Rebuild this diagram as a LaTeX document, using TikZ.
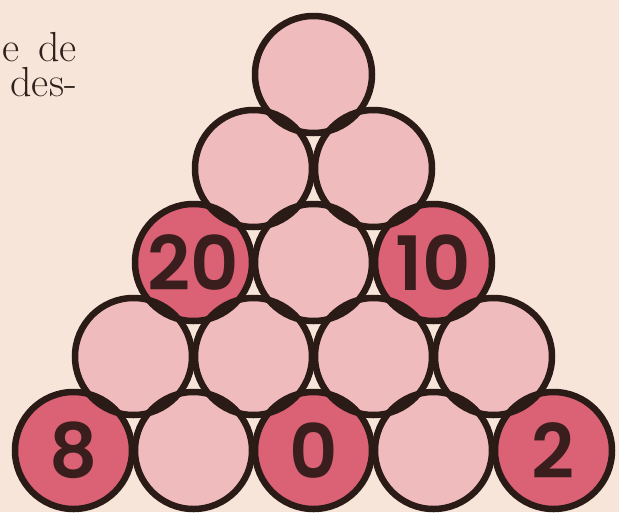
\documentclass[tikz,border=0pt]{standalone}
\usepackage{fontspec}
\newfontfamily\numfont{Poppins}[BoldFont={* SemiBold}]
\definecolor{paper}{HTML}{F6E5D8}
\definecolor{lightball}{HTML}{F0BBBC}
\definecolor{darkball}{HTML}{DB6174}
\definecolor{ink}{HTML}{2B1B17}
\definecolor{numink}{HTML}{3A1E1D}
\definecolor{txtink}{HTML}{2E211C}
\tikzset{
  ballfill/.style={circle, minimum size=117pt, inner sep=0pt, fill=lightball},
  markball/.style={ballfill, fill=darkball},
  ring/.style={draw=ink, line width=6.5pt},
  numtext/.style={font=\numfont\bfseries\fontsize{75}{75}\selectfont, text=numink},
  bodytext/.style={font=\fontsize{42}{35}\selectfont, text=txtink, align=right, anchor=south east, inner sep=0pt, text depth=0pt}
}
\begin{document}
\begin{tikzpicture}[x=1pt,y=-1pt]
\useasboundingbox (0,0) rectangle (619,512);
\fill[paper] (0,0) rectangle (619,512);
\begin{scope}
\clip (0,0) rectangle (619,512);
\node[bodytext] (t1) at (77,97) {e\hspace{0.45em}de\\des-};
% row 1
\node[ballfill] (b11) at (313.5,74.5) {};
% row 2
\node[ballfill] (b21) at (253.5,168.5) {};
\node[ballfill] (b22) at (373.5,168.5) {};
% row 3
\node[markball] (b31) at (193.5,262.5) {};
\node[ballfill] (b32) at (313.5,262.5) {};
\node[markball] (b33) at (433.5,262.5) {};
% row 4
\node[ballfill] (b41) at (133.5,356.5) {};
\node[ballfill] (b42) at (253.5,356.5) {};
\node[ballfill] (b43) at (373.5,356.5) {};
\node[ballfill] (b44) at (493.5,356.5) {};
% row 5
\node[markball] (b51) at (73.5,450.5) {};
\node[ballfill] (b52) at (193.5,450.5) {};
\node[markball] (b53) at (313.5,450.5) {};
\node[ballfill] (b54) at (433.5,450.5) {};
\node[markball] (b55) at (553.5,450.5) {};
\foreach \n in {b11,b21,b22,b31,b32,b33,b41,b42,b43,b44,b51,b52,b53,b54,b55}
  \draw[ring] (\n.center) circle (58.5pt);
\node[numtext] (n31) at (b31.center) {20};
\node[numtext] (n33) at (b33.center) {10};
\node[numtext] (n51) at (b51.center) {8};
\node[numtext] (n53) at (b53.center) {0};
\node[numtext] (n55) at (b55.center) {2};
\end{scope}
\end{tikzpicture}
\end{document}
